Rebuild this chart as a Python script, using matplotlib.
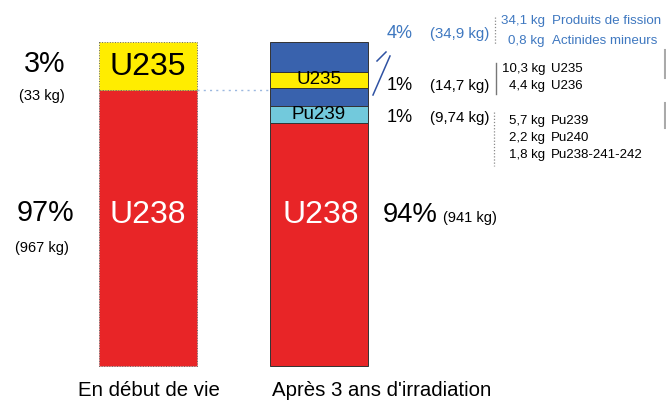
import numpy as np
import matplotlib
matplotlib.use("Agg")
import matplotlib.pyplot as plt
from matplotlib import font_manager as fm

# segment heights as drawn in the picture (bars are schematic, not to scale)
LEFT_SEG = ["U238", "U235"]
LEFT_H = [276, 48]
RIGHT_SEG = ["U238", "Pu239", "autres", "U235", "PF"]
RIGHT_H = [243, 17, 18, 16, 30]
SEG_COL = {"U238": "#e82527", "U235": "#ffed00", "Pu239": "#72c9dc",
           "autres": "#3962ad", "PF": "#3962ad"}

BAR_LABELS = ["En début de vie", "Après 3 ans d'irradiation"]
LEFT_PCT = [("97%", "(967 kg)"), ("3%", "(33 kg)")]
RIGHT_GROUPS = [("4%", "(34,9 kg)"), ("1%", "(14,7 kg)"), ("1%", "(9,74 kg)")]
DETAIL_KG = [["34,1 kg", "0,8 kg"], ["10,3 kg", "4,4 kg"],
             ["5,7 kg", "2,2 kg", "1,8 kg"]]
DETAIL_NAME = [["Produits de fission", "Actinides mineurs"], ["U235", "U236"],
               ["Pu239", "Pu240", "Pu238-241-242"]]

names = {f.name for f in fm.fontManager.ttflist}
if "Liberation Sans Narrow" in names:
    NARROW, NS, NR = "Liberation Sans Narrow", 1.0, 1.0
else:
    NARROW, NS, NR = "Liberation Sans", 0.9, 0.87
REG = "Liberation Sans"
BLUE_TXT = "#3f78c0"

fig = plt.figure(figsize=(6.66, 4.05), dpi=100)
ax = fig.add_axes([0, 0, 1, 1])
ax.set_xlim(0, 666)
ax.set_ylim(405, 0)
ax.axis("off")

BASE, W = 366, 98
XL, XR = 148, 319


def stack(x, segs, hs, **kw):
    cum = 0
    tops = []
    for s, h in zip(segs, hs):
        ax.bar(x, h, bottom=BASE - cum - h, width=W, color=SEG_COL[s], **kw)
        tops.append((BASE - cum - h, BASE - cum))
        cum += h
    return tops


lt = stack(XL, LEFT_SEG, LEFT_H, edgecolor="#666666", lw=0.7, ls=":")
rt = stack(XR, RIGHT_SEG, RIGHT_H, edgecolor="#333333", lw=0.7)

mid = lambda t: (t[0] + t[1]) / 2
ax.text(XL, 215, "U238", color="white", fontsize=23, family=REG,
        ha="center", va="center")
ax.text(XL, mid(lt[1]) + 1, "U235", color="black", fontsize=23, family=REG,
        ha="center", va="center")
ax.text(XR + 2, 215, "U238", color="white", fontsize=23, family=REG,
        ha="center", va="center")
ax.text(XR, mid(rt[3]), "U235", color="black", fontsize=13.5, family=REG,
        ha="center", va="center")
ax.text(XR, mid(rt[1]), "Pu239", color="black", fontsize=13.5, family=REG,
        ha="center", va="center")

# left percentages
for (p, kg), (yp, yk) in zip(LEFT_PCT, [(213, 248), (64, 96)]):
    ax.text(45, yp, p, fontsize=23 * NS, family=NARROW, ha="center", va="center")
    ax.text(42, yk, kg, fontsize=10.5, family=REG, ha="center", va="center")

ax.text(383, 215, "94%", fontsize=22 * NS, family=NARROW, ha="left", va="center")
ax.text(443, 218, "(941 kg)", fontsize=10.5, family=REG, ha="left", va="center")

# dotted guide between the bars
ax.plot([XL + W / 2, XR - W / 2], [lt[0][0], lt[0][0]], ls=(0, (1.5, 3)),
        color="#9cb8e0", lw=1.0)
# blue slash
ax.plot([377, 386], [61, 52], color="#2f52a3", lw=1.1)
ax.plot([390, 373], [56, 95], color="#2f52a3", lw=1.1)

# right groups
ys = [33, 85, 117]
for i, ((p, kg), y) in enumerate(zip(RIGHT_GROUPS, ys)):
    c = BLUE_TXT if i == 0 else "black"
    ax.text(400, y, p, fontsize=14.5 * NS, family=NARROW, color=c,
            ha="center", va="center")
    ax.text(460, y + 1, kg, fontsize=12 * NS, family=NARROW, color=c,
            ha="center", va="center")

rows_y = [[21, 41], [69, 86], [121, 138, 155]]
for i, (kgs, nms, yy) in enumerate(zip(DETAIL_KG, DETAIL_NAME, rows_y)):
    c = BLUE_TXT if i == 0 else "black"
    fs = 11.1 if i == 0 else 11
    xn = 552 if i == 0 else 551
    for kg, nm, y in zip(kgs, nms, yy):
        ax.text(545, y, kg, fontsize=fs * NR, family=NARROW, color=c,
                ha="right", va="center")
        ax.text(xn, y, nm, fontsize=fs * NR, family=NARROW, color=c,
                ha="left", va="center")

# bracket lines
ax.plot([495, 495], [17, 44], color="#8a8a8a", lw=0.9, ls=(0, (1, 1.5)))
ax.plot([496, 496], [63, 94], color="#777777", lw=1.0)
ax.plot([494, 494], [112, 166], color="#8a8a8a", lw=0.9, ls=(0, (1, 1.5)))
ax.plot([665, 665], [50, 78], color="#aaaaaa", lw=1.5)
ax.plot([665, 665], [103, 128], color="#aaaaaa", lw=1.5)

# bottom labels
ax.text(XL + 1, 391, BAR_LABELS[0], fontsize=16.3 * NS, family=NARROW,
        ha="center", va="center")
ax.text(272, 391, BAR_LABELS[1], fontsize=16.3 * NS, family=NARROW,
        ha="left", va="center")

fig.savefig("out.png", dpi=100)
